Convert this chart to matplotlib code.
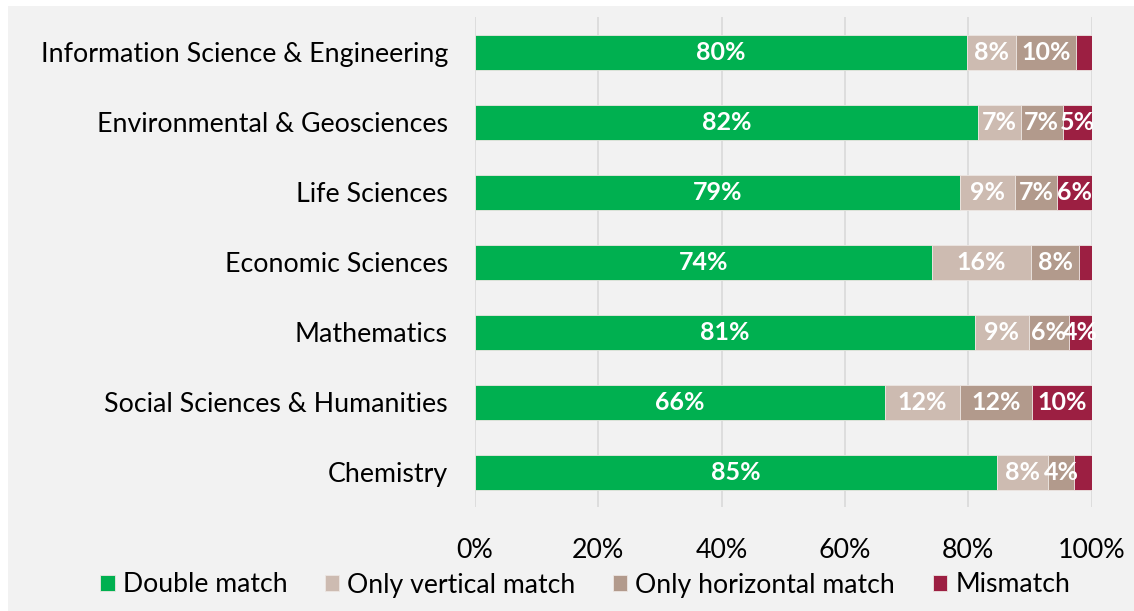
import matplotlib
matplotlib.use("Agg")
import matplotlib.pyplot as plt
from matplotlib.patches import Rectangle
from matplotlib.ticker import PercentFormatter

plt.rcParams['font.family'] = ['Lato', 'DejaVu Sans']

# shares per field (percent), top to bottom
fields = [
    "Information Science & Engineering",
    "Environmental & Geosciences",
    "Life Sciences",
    "Economic Sciences",
    "Mathematics",
    "Social Sciences & Humanities",
    "Chemistry",
]
double_match = [79.8, 81.6, 78.6, 74.1, 81.1, 66.5, 84.6]
only_vertical = [7.9, 6.9, 9.0, 16.1, 8.7, 12.1, 8.3]
only_horizontal = [9.8, 6.8, 6.7, 7.8, 6.5, 11.7, 4.3]
mismatch = [2.5, 4.7, 5.7, 2.0, 3.7, 9.7, 2.8]

series = ["Double match", "Only vertical match", "Only horizontal match", "Mismatch"]
colors = ["#00B050", "#CDBBB1", "#B29A8C", "#9C1F42"]
bg = "#F2F2F2"

fig = plt.figure(figsize=(11.34, 6.11), dpi=100)
fig.patch.set_facecolor("white")
fig.add_artist(Rectangle((8 / 1134, 0), 1, 1 - 6 / 611, transform=fig.transFigure,
                         facecolor=bg, edgecolor="none", zorder=0))

ax = fig.add_axes([475 / 1134, 1 - 507 / 611, 616.7 / 1134, 490 / 611])
ax.set_facecolor("none")

y = list(range(len(fields)))
left = [0.0] * len(fields)
for name, vals, col in zip(series, [double_match, only_vertical, only_horizontal, mismatch], colors):
    ax.barh(y, vals, left=left, height=0.5, color=col, label=name,
            edgecolor="#EDE6E2", linewidth=0.6, zorder=3)
    for yi, l, v in zip(y, left, vals):
        if v >= 3.5:
            ax.text(l + v / 2, yi, f"{v:.0f}%", ha="center", va="center",
                    color="white", fontsize=18, fontweight="bold", zorder=4)
    left = [a + b for a, b in zip(left, vals)]

ax.set_xlim(0, 100)
ax.set_ylim(len(fields) - 0.5, -0.5)
ax.set_yticks(y)
ax.set_yticklabels(fields, fontsize=19.3)
ax.set_xticks([0, 20, 40, 60, 80, 100])
ax.xaxis.set_major_formatter(PercentFormatter(decimals=0))
ax.tick_params(axis="x", labelsize=19.3, length=0, pad=22)
ax.tick_params(axis="y", length=0, pad=19.5)
ax.grid(axis="x", color="#D9D9D9", linewidth=1.2, zorder=0)
for s in ax.spines.values():
    s.set_visible(False)

ax.legend(loc="center", bbox_to_anchor=(585 / 1134, 1 - 585 / 611),
          bbox_transform=fig.transFigure, ncol=4, frameon=False, fontsize=19.2,
          handlelength=0.55, handleheight=0.55, handletextpad=0.3, columnspacing=1.4,
          borderpad=0)

fig.savefig("out.png", dpi=100, facecolor=fig.get_facecolor())
